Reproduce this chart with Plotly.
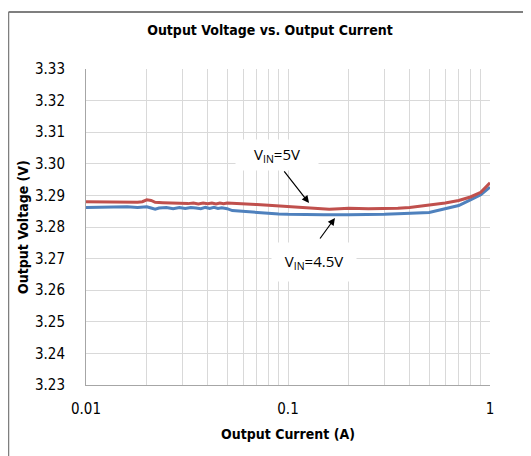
import math
import plotly.graph_objects as go

current_5v = [0.010, 0.012, 0.014, 0.016, 0.018, 0.019, 0.020, 0.021, 0.022, 0.024, 0.026, 0.028,
              0.030, 0.032, 0.034, 0.036, 0.038, 0.040, 0.042, 0.044, 0.046, 0.048, 0.050, 0.055,
              0.060, 0.070, 0.080, 0.090, 0.100, 0.120, 0.140, 0.160, 0.180, 0.200, 0.250, 0.300,
              0.350, 0.400, 0.450, 0.500, 0.550, 0.600, 0.700, 0.800, 0.900, 1.000]
vout_5v = [3.2880, 3.2879, 3.2880, 3.2879, 3.2878, 3.2880, 3.2886, 3.2884, 3.2878, 3.2877, 3.2876, 3.2874,
           3.2875, 3.2874, 3.2876, 3.2873, 3.2876, 3.2874, 3.2876, 3.2873, 3.2876, 3.2874, 3.2876, 3.2874,
           3.2873, 3.2871, 3.2869, 3.2867, 3.2865, 3.2862, 3.2858, 3.2856, 3.2858, 3.2859, 3.2858, 3.2858,
           3.2859, 3.2862, 3.2866, 3.2868, 3.2871, 3.2876, 3.2884, 3.2895, 3.2910, 3.2940]

current_45v = [0.010, 0.012, 0.014, 0.016, 0.018, 0.020, 0.021, 0.022, 0.023, 0.025, 0.027, 0.029,
               0.031, 0.033, 0.035, 0.037, 0.039, 0.041, 0.043, 0.045, 0.047, 0.050, 0.053, 0.060,
               0.070, 0.080, 0.090, 0.100, 0.120, 0.150, 0.200, 0.250, 0.300, 0.350, 0.400, 0.450,
               0.500, 0.550, 0.600, 0.700, 0.800, 0.900, 1.000]
vout_45v = [3.2862, 3.2863, 3.2862, 3.2864, 3.2862, 3.2864, 3.2860, 3.2856, 3.2860, 3.2862, 3.2858, 3.2862,
            3.2859, 3.2862, 3.2860, 3.2858, 3.2862, 3.2859, 3.2862, 3.2859, 3.2861, 3.2858, 3.2852, 3.2849,
            3.2846, 3.2843, 3.2841, 3.2840, 3.2839, 3.2839, 3.2839, 3.2839, 3.2840, 3.2842, 3.2844, 3.2845,
            3.2846, 3.2852, 3.2858, 3.2868, 3.2886, 3.2902, 3.2926]

x_major = [0.01, 0.1, 1]
x_major_labels = ["0.01", "0.1", "1"]
x_minor = [0.02, 0.03, 0.04, 0.05, 0.06, 0.07, 0.08, 0.09, 0.2, 0.3, 0.4, 0.5, 0.6, 0.7, 0.8, 0.9]
y_ticks = [3.23, 3.24, 3.25, 3.26, 3.27, 3.28, 3.29, 3.30, 3.31, 3.32, 3.33]
y_labels = ["3.23", "3.24", "3.25", "3.26", "3.27", "3.28", "3.29", "3.30", "3.31", "3.32", "3.33"]

NARROW = "DejaVu Sans Condensed, Liberation Sans Narrow, Roboto, sans-serif"
GRID = "#D9D9D9"

fig = go.Figure()
fig.add_trace(go.Scatter(x=current_45v, y=vout_45v, mode="lines", name="VIN=4.5V",
                         line=dict(color="#4F81BD", width=3)))
fig.add_trace(go.Scatter(x=current_5v, y=vout_5v, mode="lines", name="VIN=5V",
                         line=dict(color="#C0504D", width=3)))

fig.update_layout(
    width=531, height=456,
    margin=dict(l=78, r=49, t=61, b=79, autoexpand=False),
    paper_bgcolor="white", plot_bgcolor="white",
    showlegend=False,
    title=dict(text="<b>Output Voltage vs. Output Current</b>", x=262 / 531, xref="container",
               xanchor="center", y=1 - 22 / 456, yref="container", yanchor="middle",
               font=dict(family=NARROW, size=14, color="black")),
    font=dict(family=NARROW, size=14, color="black"),
)

fig.update_xaxes(
    type="log", range=[-2, 0], automargin=False,
    tickvals=x_major, ticktext=x_major_labels,
    showgrid=True, gridcolor=GRID, gridwidth=1,
    minor=dict(tickvals=x_minor, showgrid=True, gridcolor=GRID, gridwidth=1),
    showline=True, linecolor="#A6A6A6", linewidth=1,
    ticks="", ticklabelstandoff=10, zeroline=False,
    tickfont=dict(family=NARROW, size=15),
    title=dict(text="<b>Output Current (A)</b>", standoff=12,
               font=dict(family=NARROW, size=14)),
)
fig.update_yaxes(
    range=[3.23, 3.33], automargin=False,
    tickvals=y_ticks, ticktext=y_labels,
    showgrid=True, gridcolor=GRID, gridwidth=1,
    showline=True, linecolor="#A6A6A6", linewidth=1,
    ticks="", ticklabelstandoff=17, zeroline=False,
    tickfont=dict(family=NARROW, size=15),
    title=dict(text="<b>Output Voltage (V)</b>", standoff=3,
               font=dict(family=NARROW, size=14)),
)

LABEL_FONT = dict(family="Open Sans, Noto Sans, Liberation Sans, sans-serif", size=15, color="black")

# text boxes
fig.add_annotation(x=math.log10(0.0882), y=3.30278, xref="x", yref="y",
                   text="V<sub>IN</sub>=5V", showarrow=False, bgcolor="white",
                   width=80, height=28, font=LABEL_FONT)
fig.add_annotation(x=math.log10(0.1345), y=3.2688, xref="x", yref="y",
                   text="V<sub>IN</sub>=4.5V", showarrow=False, bgcolor="white",
                   width=82, height=36, font=LABEL_FONT)
# arrows
fig.add_annotation(x=math.log10(0.1271), y=3.2876, xref="x", yref="y",
                   text="", showarrow=True, ax=-26, ay=-33,
                   arrowhead=2, arrowsize=1.2, arrowwidth=1.2, arrowcolor="black")
fig.add_annotation(x=math.log10(0.1708), y=3.28285, xref="x", yref="y",
                   text="", showarrow=True, ax=-16, ay=22,
                   arrowhead=2, arrowsize=1.2, arrowwidth=1.2, arrowcolor="black")

# outer chart border (top and left edges)
BORDER = "#7F7F7F"
fig.add_shape(type="line", xref="paper", yref="paper", x0=-0.1918, x1=1.3, y0=1.18, y1=1.18,
              line=dict(color=BORDER, width=2), layer="above")
fig.add_shape(type="line", xref="paper", yref="paper", x0=-0.1918, x1=-0.1918, y0=1.18, y1=-0.3,
              line=dict(color=BORDER, width=1.5), layer="above")

fig.write_html("out.html")
